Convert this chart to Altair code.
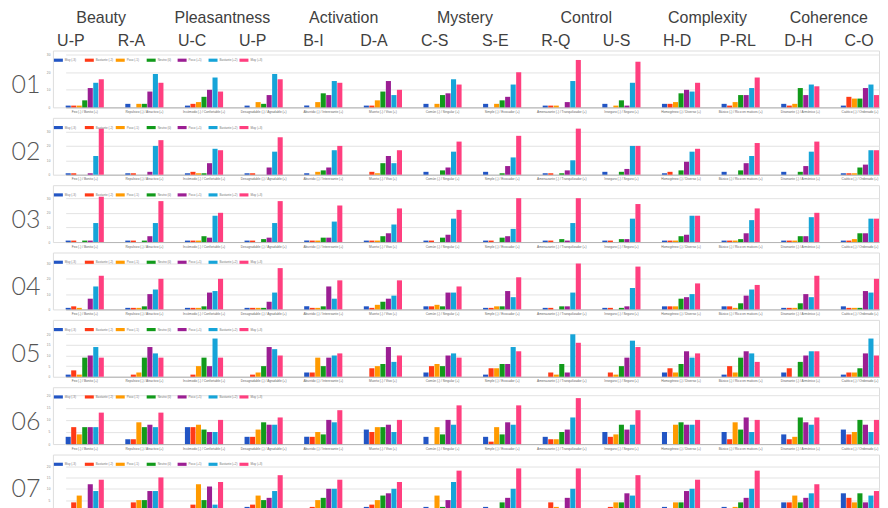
import altair as alt
import pandas as pd

groups = ["Beauty", "Pleasantness", "Activation", "Mystery", "Control", "Complexity", "Coherence"]
pair_codes = ["U-P", "R-A", "U-C", "U-P", "B-I", "D-A", "C-S", "S-E", "R-Q", "U-S", "H-D", "P-RL", "D-H", "C-O"]
pair_labels = [
    "Feo (-) / Bonito (+)", "Repulsivo (-) / Atractivo (+)", "Incómodo (-) / Confortable (+)",
    "Desagradable (-) / Agradable (+)", "Aburrido (-) / Interesante (+)", "Muerto (-) / Vivo (+)",
    "Común (-) / Singular (+)", "Simple (-) / Evocador (+)", "Amenazante (-) / Tranquilizador (+)",
    "Inseguro (-) / Seguro (+)", "Homogéneo (-) / Diverso (+)", "Básico (-) / Rico en matices (+)",
    "Disonante (-) / Armónico (+)", "Caótico (-) / Ordenado (+)",
]
levels = ["Muy (-3)", "Bastante (-2)", "Poco (-1)", "Neutro (0)", "Poco (+1)", "Bastante (+2)", "Muy (+3)"]
colors = ["#2255c4", "#ff3a17", "#ff9a00", "#119a1a", "#9b1e93", "#16a4d8", "#ff3f7f"]
row_names = ["01", "02", "03", "04", "05", "06", "07"]

row01 = [[1,1,1,4,11,14,16],[2,0,2,2,9,19,14],[1,2,3,6,10,17,9],[1,0,3,2,7,19,16],
         [1,0,3,8,7,15,14],[1,1,4,9,15,7,10],[2,0,2,7,8,16,13],[2,0,2,4,6,13,20],
         [1,1,1,0,3,15,27],[2,0,1,4,1,14,26],[2,2,3,8,10,9,14],[2,1,3,7,7,11,17],
         [2,1,2,11,7,13,12],[1,6,5,5,11,13,7]]
row02 = [[1,1,0,0,1,13,32],[1,1,0,0,2,20,24],[1,2,1,1,8,18,17],[1,1,0,0,5,16,26],
         [1,0,2,3,5,17,20],[0,2,1,8,13,8,17],[2,0,0,3,5,16,23],[2,0,0,1,6,12,27],
         [1,1,0,1,3,10,32],[2,0,0,2,4,20,20],[1,2,0,3,9,16,18],[2,0,0,3,8,13,22],
         [2,0,0,2,6,16,23],[1,1,1,5,7,17,17]]
row03 = [[1,1,0,1,1,13,31],[1,1,0,1,4,13,28],[1,1,1,4,3,18,20],[1,1,0,2,3,13,28],
         [1,1,1,3,3,14,25],[1,1,1,4,6,12,23],[1,1,0,3,5,16,22],[1,1,0,3,4,9,30],
         [1,1,0,2,1,13,30],[1,1,0,2,2,16,26],[1,1,1,4,5,18,18],[1,1,1,2,6,15,23],
         [1,1,1,4,4,17,20],[1,1,2,6,6,16,16]]
row04 = [[1,2,1,0,7,15,22],[1,1,1,2,10,13,20],[1,1,1,2,11,12,20],[1,1,1,1,5,11,27],
         [2,1,1,2,15,7,19],[2,1,3,5,7,9,19],[2,2,3,2,11,11,15],[1,1,2,2,12,8,21],
         [1,1,0,2,2,11,30],[1,1,0,1,2,14,28],[2,2,2,7,8,10,17],[2,2,1,4,9,13,16],
         [1,1,1,4,10,8,22],[2,1,1,1,12,11,20]]
row05 = [[1,3,1,9,10,14,9],[0,1,2,9,14,11,9],[0,1,5,9,5,18,9],[0,1,2,5,14,13,10],
         [2,2,9,5,9,10,11],[0,4,5,6,14,7,10],[2,5,6,5,10,11,9],[1,4,4,6,6,14,12],
         [0,2,1,6,2,20,16],[0,2,1,5,9,17,14],[2,4,2,6,12,9,11],[1,5,2,9,12,11,7],
         [2,4,0,7,10,12,12],[1,2,2,4,11,18,10]]
row06 = [[3,7,4,7,7,7,13],[2,2,9,7,8,7,13],[7,7,8,6,5,5,10],[3,3,6,9,8,8,11],
         [3,3,5,4,10,9,14],[6,5,7,7,8,5,10],[3,0,7,4,10,8,16],[3,1,7,4,9,8,16],
         [3,2,2,5,6,11,19],[5,3,4,8,6,8,14],[5,0,8,9,8,8,10],[5,2,9,6,11,5,10],
         [4,2,3,11,9,8,11],[6,4,5,10,8,5,10]]
row07 = [[1,4,7,1,12,9,14],[1,4,5,5,9,9,15],[1,3,12,5,11,3,13],[2,3,7,5,6,9,16],
         [1,2,5,6,10,10,14],[2,3,5,7,8,10,13],[2,1,7,2,5,13,18],[2,1,1,4,6,10,19],
         [1,4,2,1,6,10,19],[1,2,4,4,8,7,16],[2,1,4,4,9,10,14],[2,1,2,4,6,10,18],
         [4,4,7,4,6,8,12],[8,6,4,8,4,7,9]]

rows = [row01, row02, row03, row04, row05, row06, row07]
y_max = [32.4, 39.5, 38.9, 37.2, 26.8, 23.5, 25.1]
y_ticks = [[0, 10, 20, 30]] * 4 + [[0, 5, 10, 15, 20]] * 3

PLOT_W = 828
ROW_H = 57
FONT = "Liberation Sans"
legend_symbol = "M-1,-0.35L1,-0.35L1,0.35L-1,0.35Z"


def row_chart(name, values, dmax, ticks):
    recs = []
    for p, vals in zip(pair_labels, values):
        for lev, v in zip(levels, vals):
            recs.append({"pair": p, "level": lev, "n": v})
    df = pd.DataFrame(recs)
    return alt.Chart(df).mark_bar().encode(
        x=alt.X("pair:N", sort=pair_labels,
                scale=alt.Scale(range=[12.8, PLOT_W], paddingInner=0.36, paddingOuter=0),
                axis=alt.Axis(title=None, labelAngle=0, labelFontSize=3.2, labelColor="#666",
                              labelPadding=2, ticks=False, domainColor="#b5b5b5", labelFont=FONT,
                              labelLimit=80, grid=False)),
        xOffset=alt.XOffset("level:N", sort=levels, scale=alt.Scale(paddingInner=0.08)),
        y=alt.Y("n:Q", scale=alt.Scale(domain=[0, dmax], nice=False),
                axis=alt.Axis(values=ticks, title=name, titleAngle=0, titleX=-42, titleY=34,
                              titleAlign="left", titleBaseline="middle", titleFontSize=25,
                              titleFont="Lato", titleFontWeight=300, titleColor="#555555",
                              labelFontSize=3.2, labelColor="#888", labelPadding=3, labelFont=FONT,
                              ticks=False, domain=False, gridColor="#e3e3e3", gridWidth=1)),
        color=alt.Color("level:N", scale=alt.Scale(domain=levels, range=colors),
                        legend=alt.Legend(title=None, orient="none", legendX=1, legendY=5,
                                          direction="horizontal", columns=7, gridAlign="all",
                                          labelFontSize=3, labelColor="#777", labelFont=FONT,
                                          symbolType=legend_symbol, symbolSize=81,
                                          symbolStrokeWidth=0, labelOffset=2, columnPadding=1,
                                          padding=0)),
    ).properties(width=PLOT_W, height=ROW_H)


hdr_recs = []
for i, code in enumerate(pair_codes):
    hdr_recs.append({"idx": i, "text": code, "tier": "pair"})
for g, name in enumerate(groups):
    hdr_recs.append({"idx": 2 * g + 0.5, "text": name, "tier": "group"})
hdr_df = pd.DataFrame(hdr_recs)

header = alt.Chart(hdr_df).mark_text(
    font=FONT, fontSize=16, color="#404040", baseline="alphabetic", align="center"
).encode(
    x=alt.X("idx:Q", scale=alt.Scale(domain=[-0.296, 13.329], nice=False, zero=False), axis=None),
    y=alt.Y("tier:N", scale=alt.Scale(domain=["group", "pair"], range=[-27.7, -4.7], padding=0), axis=None),
    text="text:N",
)

row_charts = [row_chart(n, v, m, t) for n, v, m, t in zip(row_names, rows, y_max, y_ticks)]
first = alt.layer(row_charts[0], header).resolve_scale(x="independent", y="independent")

chart = alt.vconcat(first, *row_charts[1:], spacing=3.5).resolve_scale(
    color="independent", y="independent", x="independent"
).resolve_legend(color="independent").properties(
    padding={"left": 2, "top": 0, "right": 0, "bottom": 0}
).configure_view(strokeWidth=0).configure(background="white")

chart.save("out.html", embed_options={"renderer": "svg", "actions": False})
